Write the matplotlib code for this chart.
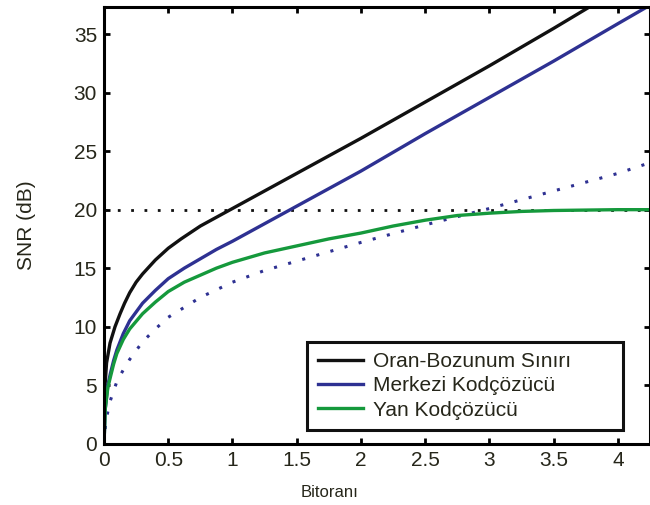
import matplotlib
matplotlib.use("Agg")
import matplotlib.pyplot as plt

plt.rcParams["font.family"] = ["Liberation Sans", "DejaVu Sans"]

# values
x_bound = [0, 0.005, 0.02, 0.047, 0.086, 0.125, 0.16, 0.2, 0.25, 0.3, 0.4, 0.5,
           0.6, 0.75, 0.9, 1.0, 1.25, 1.5, 2.0, 2.5, 3.0, 3.5, 3.85]
snr_bound = [2.5, 4.5, 6.9, 8.6, 10.0, 11.1, 12.0, 12.9, 13.8, 14.5, 15.7, 16.7,
             17.5, 18.6, 19.5, 20.1, 21.6, 23.1, 26.1, 29.2, 32.3, 35.5, 37.8]

x_central = [0, 0.01, 0.03, 0.05, 0.075, 0.1, 0.15, 0.2, 0.3, 0.4, 0.5, 0.625,
             0.75, 0.875, 1.0, 1.25, 1.5, 1.75, 2.0, 2.5, 3.0, 3.5, 4.0, 4.3]
snr_central = [0, 3.0, 5.0, 6.0, 7.1, 8.0, 9.4, 10.5, 12.0, 13.1, 14.1, 15.0,
               15.8, 16.6, 17.3, 18.8, 20.3, 21.8, 23.3, 26.5, 29.6, 32.7, 35.9,
               37.8]

x_central_dot = [0, 0.015, 0.05, 0.1, 0.15, 0.2, 0.3, 0.4, 0.5, 0.75, 1.0, 1.25,
                 1.5, 1.75, 2.0, 2.5, 3.0, 3.5, 4.0, 4.3]
snr_central_dot = [0, 2.0, 3.7, 5.3, 6.3, 7.2, 8.7, 9.8, 10.8, 12.5, 13.8, 14.8,
                   15.6, 16.4, 17.2, 18.7, 20.1, 21.6, 23.1, 24.2]

x_side = [0, 0.01, 0.03, 0.05, 0.075, 0.1, 0.15, 0.2, 0.3, 0.4, 0.5, 0.625,
          0.75, 0.875, 1.0, 1.25, 1.5, 1.75, 2.0, 2.25, 2.5, 2.75, 3.0, 3.25,
          3.5, 4.0, 4.3]
snr_side = [0, 3.0, 4.8, 5.7, 6.8, 7.7, 8.9, 9.8, 11.1, 12.1, 13.0, 13.8,
            14.4, 15.0, 15.5, 16.3, 16.9, 17.5, 18.0, 18.6, 19.1, 19.5, 19.7,
            19.85, 19.93, 20.0, 20.0]

ref_level = 20
labels = ["Oran-Bozunum Sınırı", "Merkezi Kodçözücü", "Yan Kodçözücü"]
xticks = [0, 0.5, 1, 1.5, 2, 2.5, 3, 3.5, 4]
xtick_labels = ["0", "0.5", "1", "1.5", "2", "2.5", "3", "3.5", "4"]
yticks = [0, 5, 10, 15, 20, 25, 30, 35]

black = "#111111"
blue = "#2e3192"
green = "#15993c"
text_col = "#26261a"

fig = plt.figure(figsize=(6.5, 5.05), dpi=100)
ax = fig.add_axes([0.16, 0.1216, 0.84, 0.8639])

ax.axhline(ref_level, color=black, lw=2, ls=(0, (1, 3.8)))
ax.plot(x_central_dot, snr_central_dot, color=blue, lw=2.2, ls=(0, (1, 3.8)))
ax.plot(x_bound, snr_bound, color=black, lw=2.4, label=labels[0])
ax.plot(x_central, snr_central, color=blue, lw=2.4, label=labels[1])
ax.plot(x_side, snr_side, color=green, lw=2.4, label=labels[2])

ax.set_xlim(0, 4.25)
ax.set_ylim(0, 37.3)
ax.set_xticks(xticks)
ax.set_xticklabels(xtick_labels)
ax.set_yticks(yticks)
ax.tick_params(direction="in", length=4, width=2, top=True, right=True,
               labelsize=15, labelcolor=text_col, pad=5)
for s in ax.spines.values():
    s.set_linewidth(2.2)

ax.set_ylabel("SNR (dB)", fontsize=15, color=text_col)
ax.yaxis.set_label_coords(-0.125, 0.5)
ax.set_xlabel("Bitoranı", fontsize=12, color=text_col)
ax.xaxis.set_label_coords(0.414, -0.094)

leg = ax.legend(loc="lower left", bbox_to_anchor=(0.372, 0.031, 0.579, 0.214),
                mode="expand", borderaxespad=0, fontsize=15, handlelength=2.2,
                handletextpad=0.45, labelspacing=0.25, borderpad=0.5,
                fancybox=False, framealpha=1)
leg.get_frame().set_edgecolor(black)
leg.get_frame().set_linewidth(2.2)
for t in leg.get_texts():
    t.set_color(text_col)

plt.savefig("out.png", dpi=100)
